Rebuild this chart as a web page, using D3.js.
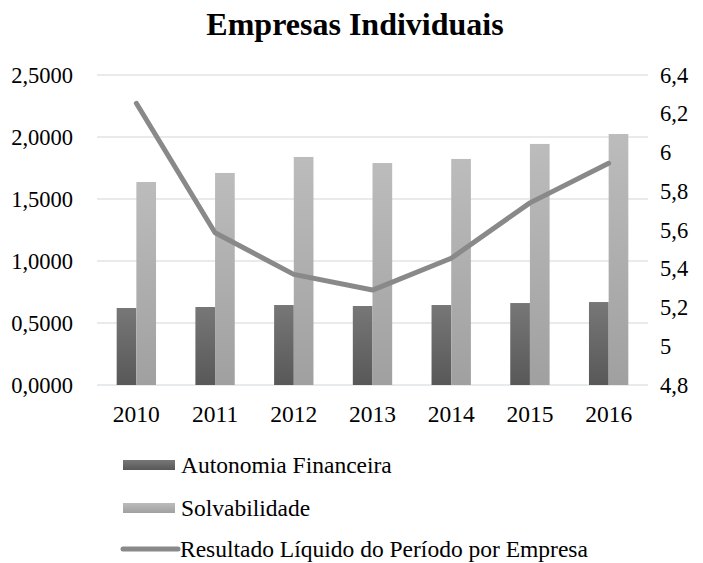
<!DOCTYPE html>
<html><head><meta charset="utf-8">
<script src="https://cdn.jsdelivr.net/npm/d3@7"></script>
<style>body{margin:0;background:#fff}svg{display:block}text{font-family:"Liberation Serif","Times New Roman",serif;fill:#000}</style>
</head><body><svg id="c" width="703" height="563"></svg>
<script>
const categories = ["2010","2011","2012","2013","2014","2015","2016"];
const autonomia = [0.621,0.629,0.645,0.637,0.645,0.661,0.669];
const solvabilidade = [1.637,1.71,1.839,1.79,1.823,1.944,2.024];
const resultado = [6.254,5.586,5.371,5.29,5.454,5.74,5.944];
const leftTicks = [0,0.5,1,1.5,2,2.5];
const rightTicks = [4.8,5,5.2,5.4,5.6,5.8,6,6.2,6.4];
const seriesNames = ["Autonomia Financeira","Solvabilidade","Resultado Líquido do Período por Empresa"];

const svg = d3.select("#c");
const W=703,H=563, L=97, R=648, T=75, B=385;
const fmtL = d => d.toFixed(4).replace(".",",");
const fmtR = d => String(+d.toFixed(1)).replace(".",",");

const defs = svg.append("defs");
function grad(id,c1,c2){const g=defs.append("linearGradient").attr("id",id).attr("x1",0).attr("y1",0).attr("x2",0).attr("y2",1);
 g.append("stop").attr("offset","0%").attr("stop-color",c1);g.append("stop").attr("offset","100%").attr("stop-color",c2);}
grad("gA","#777777","#585858");
grad("gS","#bcbcbc","#a0a0a0");

const x = d3.scaleBand().domain(categories).range([L,R]).paddingInner(0.5).paddingOuter(0.25);
const xs = d3.scaleBand().domain([0,1]).range([0,x.bandwidth()]);
const yL = d3.scaleLinear().domain([0,2.5]).range([B,T]);
const yR = d3.scaleLinear().domain([4.8,6.4]).range([B,T]);

svg.append("text").attr("x",355).attr("y",35).attr("text-anchor","middle").attr("font-size",32).attr("font-weight","bold").text("Empresas Individuais");

// grid
svg.append("g").selectAll("line").data(leftTicks).join("line")
 .attr("x1",L).attr("x2",R).attr("y1",d=>yL(d)).attr("y2",d=>yL(d))
 .attr("stroke","#e1e4e8").attr("stroke-width",1.5);

// left axis
const gl = svg.append("g").attr("transform",`translate(${L},0)`)
 .call(d3.axisLeft(yL).tickValues(leftTicks).tickFormat(fmtL).tickSize(0).tickPadding(24));
gl.select(".domain").remove();
gl.selectAll("text").attr("font-size",22.5).style("font-family","Liberation Serif");

// right axis
const gr = svg.append("g").attr("transform",`translate(${R},0)`)
 .call(d3.axisRight(yR).tickValues(rightTicks).tickFormat(fmtR).tickSize(0).tickPadding(12));
gr.select(".domain").remove();
gr.selectAll("text").attr("font-size",22.5).style("font-family","Liberation Serif");

// x axis
const gx = svg.append("g").attr("transform",`translate(0,${B})`)
 .call(d3.axisBottom(x).tickSize(0).tickPadding(20));
gx.select(".domain").remove();
gx.selectAll("text").attr("font-size",23.5).style("font-family","Liberation Serif");

// bars
const groups = svg.append("g").selectAll("g").data(categories).join("g").attr("transform",d=>`translate(${x(d)},0)`);
groups.append("rect").attr("x",xs(0)).attr("width",xs.bandwidth())
 .attr("y",(d,i)=>yL(autonomia[i])).attr("height",(d,i)=>B-yL(autonomia[i])).attr("fill","url(#gA)");
groups.append("rect").attr("x",xs(1)).attr("width",xs.bandwidth())
 .attr("y",(d,i)=>yL(solvabilidade[i])).attr("height",(d,i)=>B-yL(solvabilidade[i])).attr("fill","url(#gS)");

// line
const line = d3.line().x((d,i)=>x(categories[i])+x.bandwidth()/2).y(d=>yR(d));
svg.append("path").datum(resultado).attr("d",line).attr("fill","none")
 .attr("stroke","#898989").attr("stroke-width",5).attr("stroke-linecap","round").attr("stroke-linejoin","round");

// legend
const lg = svg.append("g");
const ly = [465,508,549];
lg.append("rect").attr("x",123).attr("y",ly[0]-5).attr("width",52).attr("height",10).attr("fill","url(#gA)");
lg.append("rect").attr("x",123).attr("y",ly[1]-5).attr("width",52).attr("height",10).attr("fill","url(#gS)");
lg.append("line").attr("x1",123).attr("x2",178).attr("y1",ly[2]).attr("y2",ly[2]).attr("stroke","#898989").attr("stroke-width",5).attr("stroke-linecap","round");
lg.selectAll("text").data(seriesNames).join("text").attr("x",(d,i)=>i==2?180:181).attr("y",(d,i)=>ly[i]+8)
 .attr("font-size",23.5).text(d=>d);
</script></body></html>
